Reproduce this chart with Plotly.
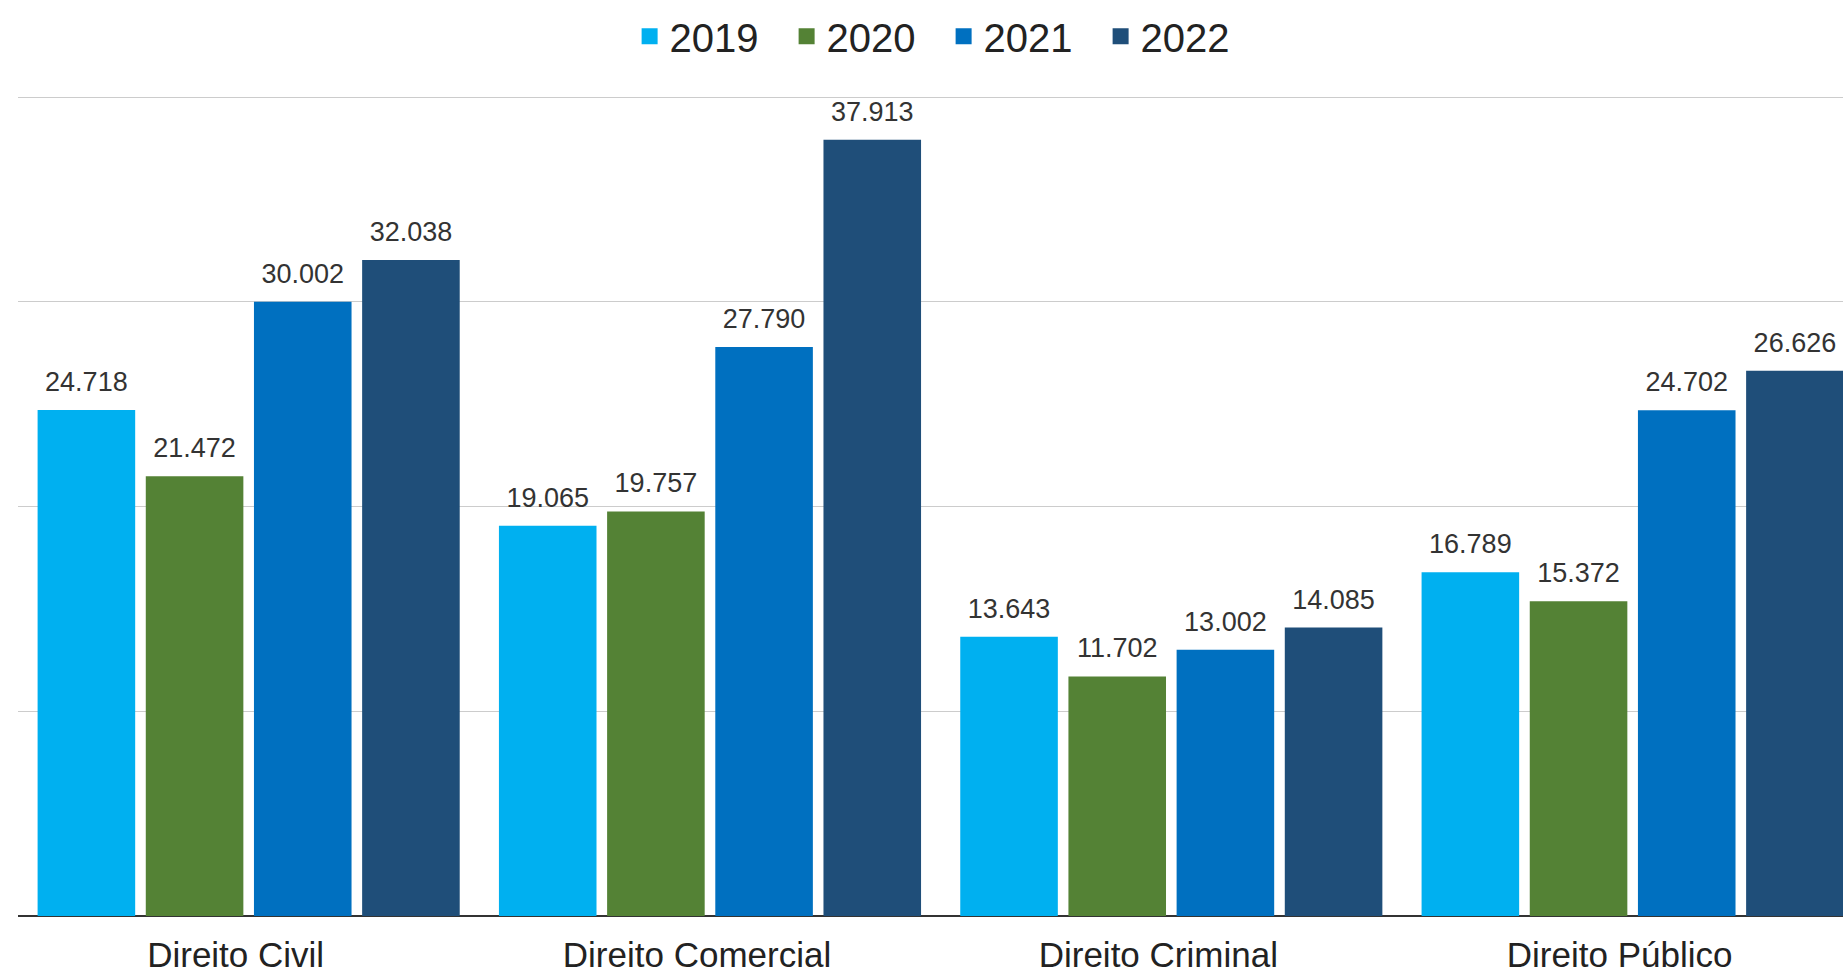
import plotly.graph_objects as go

categories = ["Direito Civil", "Direito Comercial", "Direito Criminal", "Direito Público"]
years = ["2019", "2020", "2021", "2022"]
v2019 = [24718, 19065, 13643, 16789]
v2020 = [21472, 19757, 11702, 15372]
v2021 = [30002, 27790, 13002, 24702]
v2022 = [32038, 37913, 14085, 26626]
series = [v2019, v2020, v2021, v2022]
colors = ["#00b0f0", "#548235", "#0070c0", "#1f4e79"]

FONT = "Arial, Liberation Sans, sans-serif"

fig = go.Figure()
for name, vals, col in zip(years, series, colors):
    fig.add_trace(go.Bar(
        name=name, x=categories, y=vals, showlegend=False,
        marker=dict(color=col, line=dict(width=0)),
        hoverinfo="x+y",
    ))
# value labels, grouped like the bars
for name, vals in zip(years, series):
    fig.add_trace(go.Scatter(
        name=name, x=categories, y=vals, mode="markers+text",
        text=[f"{v:,}".replace(",", ".") for v in vals],
        textposition="top center",
        textfont=dict(family=FONT, size=27, color="#333333"),
        marker=dict(size=18, opacity=0),
        showlegend=False, hoverinfo="skip", cliponaxis=False,
    ))
# legend entries (square swatches) on a hidden overlay axis
for name, col in zip(years, colors):
    fig.add_trace(go.Scatter(
        name=name, x=[None], y=[None], mode="markers",
        xaxis="x2", yaxis="y2",
        marker=dict(symbol="square", size=20, color=col, line=dict(width=0)),
        showlegend=True, hoverinfo="skip",
    ))

fig.update_layout(
    width=1843, height=975,
    margin=dict(l=18, r=0, t=96, b=59, autoexpand=False),
    paper_bgcolor="white", plot_bgcolor="white",
    separators=",.",
    barmode="group", bargap=0.062, bargroupgap=0.098,
    scattermode="group", scattergap=0.062,
    font=dict(family=FONT, color="#222222"),
    legend=dict(orientation="h", xref="container", yref="container",
                x=0.512, xanchor="center", y=0.9628, yanchor="middle",
                font=dict(family=FONT, size=40, color="#222222"),
                itemwidth=30, itemsizing="trace", entrywidth=112),
    xaxis=dict(range=[-0.5, 3.456], showgrid=False, showline=False,
               automargin=False,
               ticks="", tickfont=dict(family=FONT, size=35, color="#222222"),
               ticklabelshift=-13, ticklabelstandoff=15),
    yaxis=dict(range=[0, 40050], tick0=0, dtick=10000, showticklabels=False,
               automargin=False,
               gridcolor="#cccccc", gridwidth=1,
               zeroline=True, zerolinecolor="#333333", zerolinewidth=2),
    xaxis2=dict(overlaying="x", visible=False, automargin=False),
    yaxis2=dict(overlaying="y", visible=False, automargin=False),
)

fig.write_html("out.html", config={"displayModeBar": False},
               post_script="document.body.style.margin='0';document.body.style.overflow='hidden';")
